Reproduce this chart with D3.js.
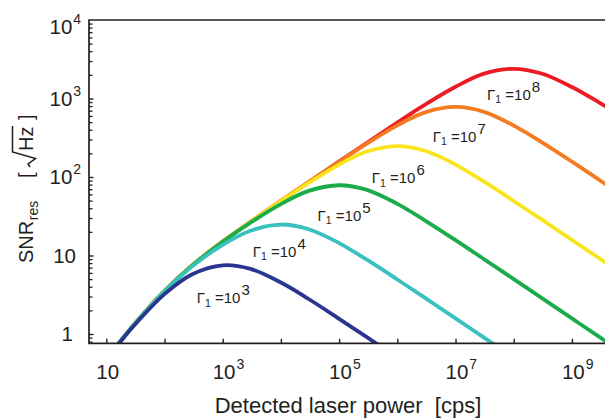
<!DOCTYPE html>
<html>
<head>
<meta charset="utf-8">
<script src="https://cdn.jsdelivr.net/npm/d3@7"></script>
<style>
  body { margin: 0; background: #fff; }
  svg { display: block; }
  text { font-family: Arial, "Liberation Sans", Helvetica, sans-serif; fill: #231f20; white-space: pre; }
</style>
</head>
<body>
<svg id="chart" width="605" height="419"></svg>
<script>
// detected laser power grid [cps], shared by every curve
const power = [15, 30, 100, 300, 1e3, 3e3, 1e4, 3e4, 1e5, 3e5, 1e6, 3e6, 1e7, 3e7, 1e8, 3e8, 1e9, 3e9, 6e9];

// SNR_res, one array per Gamma_1
const snrG8 = [0.70, 1.32, 3.54, 7.50, 15.1, 26.9, 49.7, 86.4, 158, 273, 495, 835, 1410, 2060, 2390, 2080, 1400, 880, 640];
const snrG7 = [0.70, 1.32, 3.54, 7.50, 15.1, 26.9, 49.7, 86.2, 156, 266, 455, 666, 780, 680, 452, 279, 157, 91.0, 64.4];
const snrG6 = [0.70, 1.32, 3.54, 7.50, 15.1, 26.9, 49.3, 83.9, 144, 211, 248, 216, 144, 88.3, 49.5, 28.8, 15.8, 9.13, 6.45];
const snrG5 = [0.70, 1.32, 3.53, 7.48, 14.9, 26.2, 45.2, 66.5, 78.5, 68.5, 45.5, 27.9, 15.7, 9.10, 5.00, 2.89, 1.58, 0.913, 0.645];
const snrG4 = [0.70, 1.31, 3.50, 7.28, 13.7, 20.7, 24.8, 21.6, 14.4, 8.83, 4.95, 2.88, 1.58, 0.913, 0.50, null, null, null, null];
const snrG3 = [0.69, 1.28, 3.22, 5.77, 7.50, 6.74, 4.52, 2.79, 1.56, 0.910, 0.50, null, null, null, null, null, null, null, null];

const gammaExp = ["8", "7", "6", "5", "4", "3"];
const curveColors = ["#ec1c24", "#f47b20", "#f8e51c", "#1aab4b", "#38c1bf", "#2b3590"];
const curveValues = [snrG8, snrG7, snrG6, snrG5, snrG4, snrG3];

// where each Gamma_1 label sits (data coordinates)
const labelPower = [3.48e7, 4.06e6, 3.63e5, 4.26e4, 3270, 357];
const labelSnr = [957, 282, 83.2, 27.9, 9.66, 2.46];

// axis labelling
const xMajor = [10, 1e2, 1e3, 1e4, 1e5, 1e6, 1e7, 1e8, 1e9];
const xLabelVals = [10, 1e3, 1e5, 1e7, 1e9];
const xLabelSup = ["", "3", "5", "7", "9"];
const yLabelVals = [1, 10, 100, 1000, 10000];
const yLabelBase = ["1", "10", "10", "10", "10"];
const yLabelSup = ["", "", "2", "3", "4"];

const AXIS = "#231f20";
const plotLeft = 89, plotRight = 605, plotTop = 20, plotBottom = 343.3;

const svg = d3.select("#chart");

const x = d3.scaleLog().domain([5.045, 3.7e9]).range([plotLeft, plotRight]);
const y = d3.scaleLog().domain([0.761, 1e4]).range([plotBottom, plotTop]);

svg.append("clipPath").attr("id", "plot")
  .append("rect").attr("x", plotLeft).attr("y", plotTop)
  .attr("width", plotRight - plotLeft).attr("height", plotBottom - plotTop);

// curves, highest Gamma first so lower ones lie on top
const line = d3.line()
  .defined(d => d[1] != null)
  .x(d => x(d[0]))
  .y(d => y(d[1]))
  .curve(d3.curveCatmullRom.alpha(0.5));

const curves = svg.append("g").attr("clip-path", "url(#plot)");
curveValues.forEach((vals, i) => {
  curves.append("path")
    .datum(power.map((p, k) => [p, vals[k]]))
    .attr("d", line)
    .attr("fill", "none")
    .attr("stroke", curveColors[i])
    .attr("stroke-width", 3.8)
    .attr("stroke-linejoin", "round");
});

// frame
svg.append("path")
  .attr("d", `M${plotRight},${plotTop}H${plotLeft}V${plotBottom}H${plotRight}`)
  .attr("fill", "none").attr("stroke", AXIS).attr("stroke-width", 1.7);

// y ticks (inward), minor ones at 2..9 per decade
const yMinor = [];
for (let e = -1; e < 4; e++) for (let m = 2; m <= 9; m++) {
  const v = m * 10 ** e;
  if (v > 0.77 && v < 1e4) yMinor.push(v);
}
svg.append("g").attr("transform", `translate(${plotLeft},0)`)
  .call(d3.axisLeft(y).tickValues(yMinor).tickSize(-3.5).tickFormat(""))
  .call(g => g.select(".domain").remove())
  .selectAll("line").attr("stroke", AXIS).attr("stroke-width", 1.3);
svg.append("g").attr("transform", `translate(${plotLeft},0)`)
  .call(d3.axisLeft(y).tickValues([1, 10, 100, 1000]).tickSize(-4.5).tickFormat(""))
  .call(g => g.select(".domain").remove())
  .selectAll("line").attr("stroke", AXIS).attr("stroke-width", 1.4);

// x ticks (inward) at every decade
svg.append("g").attr("transform", `translate(0,${plotBottom})`)
  .call(d3.axisBottom(x).tickValues(xMajor).tickSize(-4.5).tickFormat(""))
  .call(g => g.select(".domain").remove())
  .selectAll("line").attr("stroke", AXIS).attr("stroke-width", 1.4);

// y tick labels
yLabelVals.forEach((v, i) => {
  const py = y(v) + (v === 1e4 ? 7 : 0) + 7.3;
  const t = svg.append("text").attr("y", py).attr("font-size", 20.5);
  if (yLabelSup[i]) {
    t.attr("x", 49.5);
    t.append("tspan").text(yLabelBase[i]);
    t.append("tspan").attr("font-size", 14).attr("dx", 1).attr("dy", -10).text(yLabelSup[i]);
  } else {
    t.attr("x", i === 0 ? 73 : 76).attr("text-anchor", "end").text(yLabelBase[i]);
  }
});

// x tick labels
xLabelVals.forEach((v, i) => {
  const t = svg.append("text").attr("x", x(v) - 10).attr("y", 379).attr("font-size", 20.5);
  t.append("tspan").text("10");
  if (xLabelSup[i]) t.append("tspan").attr("font-size", 14).attr("dx", 1).attr("dy", -10).text(xLabelSup[i]);
});

// Gamma_1 labels
gammaExp.forEach((e, i) => {
  const t = svg.append("text")
    .attr("x", x(labelPower[i])).attr("y", y(labelSnr[i]))
    .attr("font-size", 15);
  t.append("tspan").text("\u0393");
  t.append("tspan").attr("font-size", 10.5).attr("dy", 3.5).text("1");
  t.append("tspan").attr("dy", -3.5).text(" =10");
  t.append("tspan").attr("dx", 1).attr("dy", -8).text(e);
});

// axis titles
svg.append("text")
  .attr("x", 348).attr("y", 412.7)
  .attr("text-anchor", "middle").attr("font-size", 22)
  .text("Detected laser power  [cps]");

const yt = svg.append("g").attr("transform", "translate(33,188) rotate(-90)");
const snr = yt.append("text").attr("x", -75).attr("y", 0).attr("font-size", 20).text("SNR");
const snrW = snr.node().getComputedTextLength();
yt.append("text").attr("x", -75 + snrW + 0.5).attr("y", 5).attr("font-size", 14).text("res");
yt.append("text").attr("x", 10).attr("y", 0).attr("font-size", 20).text("[");
yt.append("path")
  .attr("d", "M21,-3L24,-5L29.5,2.5L36,-20.5H62")
  .attr("fill", "none").attr("stroke", AXIS).attr("stroke-width", 1.5)
  .attr("stroke-linejoin", "miter");
yt.append("text").attr("x", 37).attr("y", 0).attr("font-size", 20).text("Hz");
yt.append("text").attr("x", 68).attr("y", 0).attr("font-size", 20).text("]");
</script>
</body>
</html>
